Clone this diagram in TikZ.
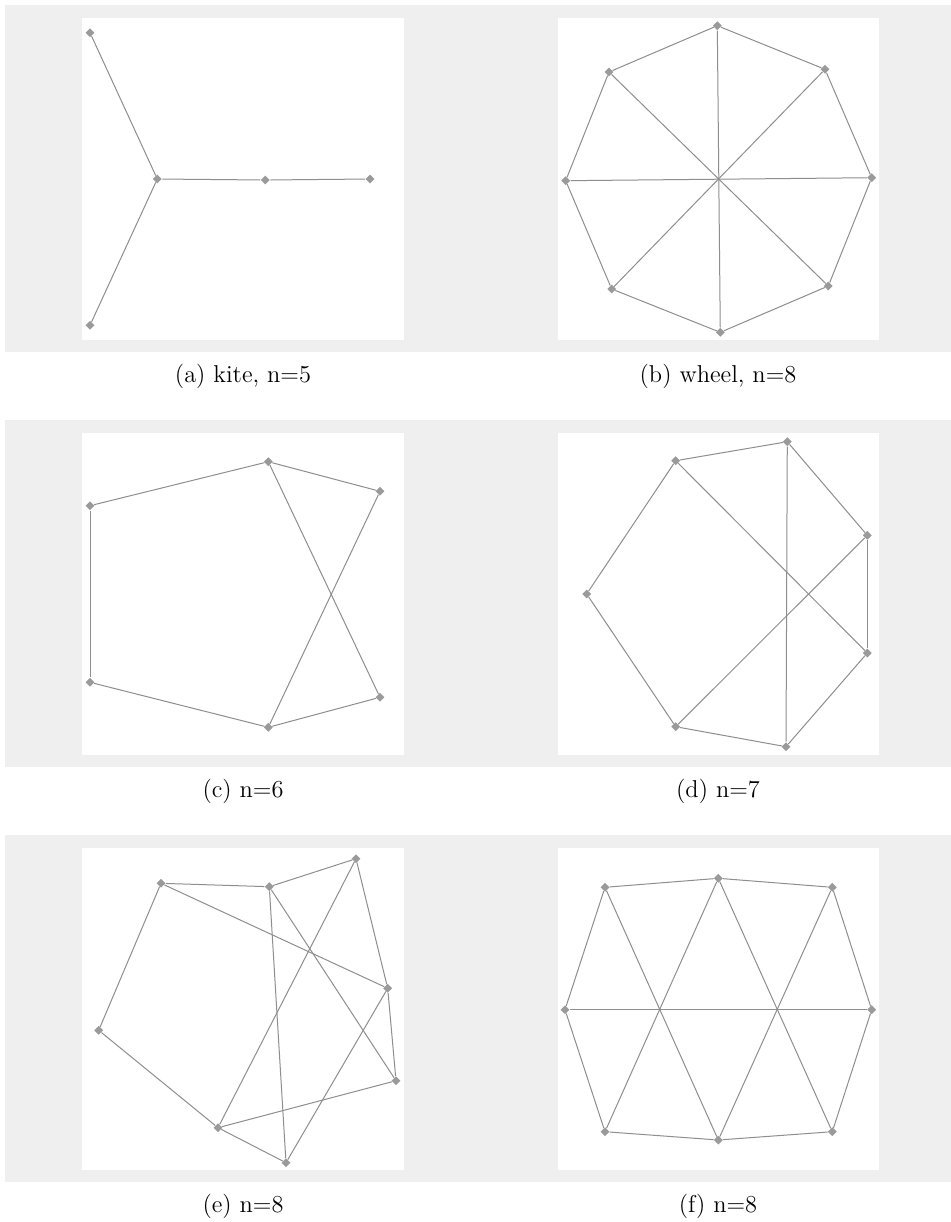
\documentclass[tikz,border=0pt]{standalone}
\usetikzlibrary{shapes.geometric}
\definecolor{bggray}{HTML}{EFEFEF}
\definecolor{vgray}{HTML}{9A9A9A}
\definecolor{egray}{HTML}{8E8E8E}
\tikzset{
  vtx/.style={diamond, fill=vgray, draw=none, inner sep=0pt, minimum size=4.6pt},
  edge/.style={draw=egray, line width=0.5pt},
  captext/.style={anchor=base, inner sep=0pt, font=\fontsize{12.2}{14}\selectfont},
  panel/.style={fill=white, draw=none}
}
\begin{document}
\begin{tikzpicture}[x=0.5pt, y=-0.5pt]
\useasboundingbox (0,0) rectangle (951,1222);
% grey bands
\fill[bggray] (5,5) rectangle (951,352);
\fill[bggray] (5,420) rectangle (951,767);
\fill[bggray] (5,835) rectangle (951,1182);
% white panels
\fill[panel] (82,18) rectangle (404,340);
\fill[panel] (557.5,18) rectangle (879,340);
\fill[panel] (82,433) rectangle (404,755);
\fill[panel] (557.5,433) rectangle (879,755);
\fill[panel] (82,848) rectangle (404,1170);
\fill[panel] (557.5,848) rectangle (879,1170);

% (a) kite
\node[vtx] (a1) at (90,32.7) {};
\node[vtx] (a2) at (157.3,179) {};
\node[vtx] (a3) at (265.3,180) {};
\node[vtx] (a4) at (370,179) {};
\node[vtx] (a5) at (90,325.3) {};
\draw[edge] (a1) -- (a2);
\draw[edge] (a5) -- (a2);
\draw[edge] (a2) -- (a3);
\draw[edge] (a3) -- (a4);
\node[captext] (capa) at (243,382) {(a) kite, n=5};

% (b) wheel
\node[vtx] (b1) at (717.3,25.7) {};
\node[vtx] (b2) at (825,69.3) {};
\node[vtx] (b3) at (871.7,177.7) {};
\node[vtx] (b4) at (828.3,286) {};
\node[vtx] (b5) at (720.3,332.3) {};
\node[vtx] (b6) at (611.7,289) {};
\node[vtx] (b7) at (565.7,180.7) {};
\node[vtx] (b8) at (609,72) {};
\draw[edge] (b1) -- (b2);
\draw[edge] (b2) -- (b3);
\draw[edge] (b3) -- (b4);
\draw[edge] (b4) -- (b5);
\draw[edge] (b5) -- (b6);
\draw[edge] (b6) -- (b7);
\draw[edge] (b7) -- (b8);
\draw[edge] (b8) -- (b1);
\draw[edge] (b1) -- (b5);
\draw[edge] (b2) -- (b6);
\draw[edge] (b3) -- (b7);
\draw[edge] (b4) -- (b8);
\node[captext] (capb) at (718,382) {(b) wheel, n=8};

% (c) n=6
\node[vtx] (c1) at (90,505.7) {};
\node[vtx] (c2) at (268.3,461.7) {};
\node[vtx] (c3) at (380,491.3) {};
\node[vtx] (c4) at (380,697.3) {};
\node[vtx] (c5) at (268.3,727.3) {};
\node[vtx] (c6) at (90,682.3) {};
\draw[edge] (c1) -- (c2);
\draw[edge] (c2) -- (c3);
\draw[edge] (c3) -- (c5);
\draw[edge] (c2) -- (c4);
\draw[edge] (c4) -- (c5);
\draw[edge] (c5) -- (c6);
\draw[edge] (c6) -- (c1);
\node[captext] (capc) at (243,797) {(c) n=6};

% (d) n=7
\node[vtx] (d1) at (787.3,441.7) {};
\node[vtx] (d2) at (675.7,460.7) {};
\node[vtx] (d3) at (586.7,594) {};
\node[vtx] (d4) at (675.7,726.7) {};
\node[vtx] (d5) at (786,746.7) {};
\node[vtx] (d6) at (867.3,653) {};
\node[vtx] (d7) at (867.3,535.3) {};
\draw[edge] (d2) -- (d1);
\draw[edge] (d1) -- (d7);
\draw[edge] (d7) -- (d6);
\draw[edge] (d6) -- (d5);
\draw[edge] (d5) -- (d4);
\draw[edge] (d4) -- (d3);
\draw[edge] (d3) -- (d2);
\draw[edge] (d1) -- (d5);
\draw[edge] (d2) -- (d6);
\draw[edge] (d7) -- (d4);
\node[captext] (capd) at (718,797) {(d) n=7};

% (e) n=8
\node[vtx] (e1) at (161,883.3) {};
\node[vtx] (e2) at (269.3,886.7) {};
\node[vtx] (e3) at (356,858.7) {};
\node[vtx] (e4) at (387.7,988.3) {};
\node[vtx] (e5) at (396,1080.7) {};
\node[vtx] (e6) at (286,1162.7) {};
\node[vtx] (e7) at (218,1127.7) {};
\node[vtx] (e8) at (98.7,1030.3) {};
\draw[edge] (e1) -- (e2);
\draw[edge] (e2) -- (e3);
\draw[edge] (e3) -- (e4);
\draw[edge] (e4) -- (e5);
\draw[edge] (e1) -- (e8);
\draw[edge] (e8) -- (e7);
\draw[edge] (e7) -- (e6);
\draw[edge] (e1) -- (e4);
\draw[edge] (e2) -- (e6);
\draw[edge] (e2) -- (e5);
\draw[edge] (e3) -- (e7);
\draw[edge] (e4) -- (e6);
\draw[edge] (e7) -- (e5);
\node[captext] (cape) at (243,1212) {(e) n=8};

% (f) n=8
\node[vtx] (f1) at (605,887.3) {};
\node[vtx] (f2) at (718.3,878.3) {};
\node[vtx] (f3) at (832.3,887.3) {};
\node[vtx] (f4) at (871.7,1009.7) {};
\node[vtx] (f5) at (832.3,1131.7) {};
\node[vtx] (f6) at (718.3,1140) {};
\node[vtx] (f7) at (605,1131.7) {};
\node[vtx] (f8) at (565,1009.7) {};
\draw[edge] (f1) -- (f2);
\draw[edge] (f2) -- (f3);
\draw[edge] (f3) -- (f4);
\draw[edge] (f4) -- (f5);
\draw[edge] (f5) -- (f6);
\draw[edge] (f6) -- (f7);
\draw[edge] (f7) -- (f8);
\draw[edge] (f8) -- (f1);
\draw[edge] (f8) -- (f4);
\draw[edge] (f1) -- (f6);
\draw[edge] (f2) -- (f7);
\draw[edge] (f2) -- (f5);
\draw[edge] (f3) -- (f6);
\node[captext] (capf) at (718,1212) {(f) n=8};
\end{tikzpicture}
\end{document}
